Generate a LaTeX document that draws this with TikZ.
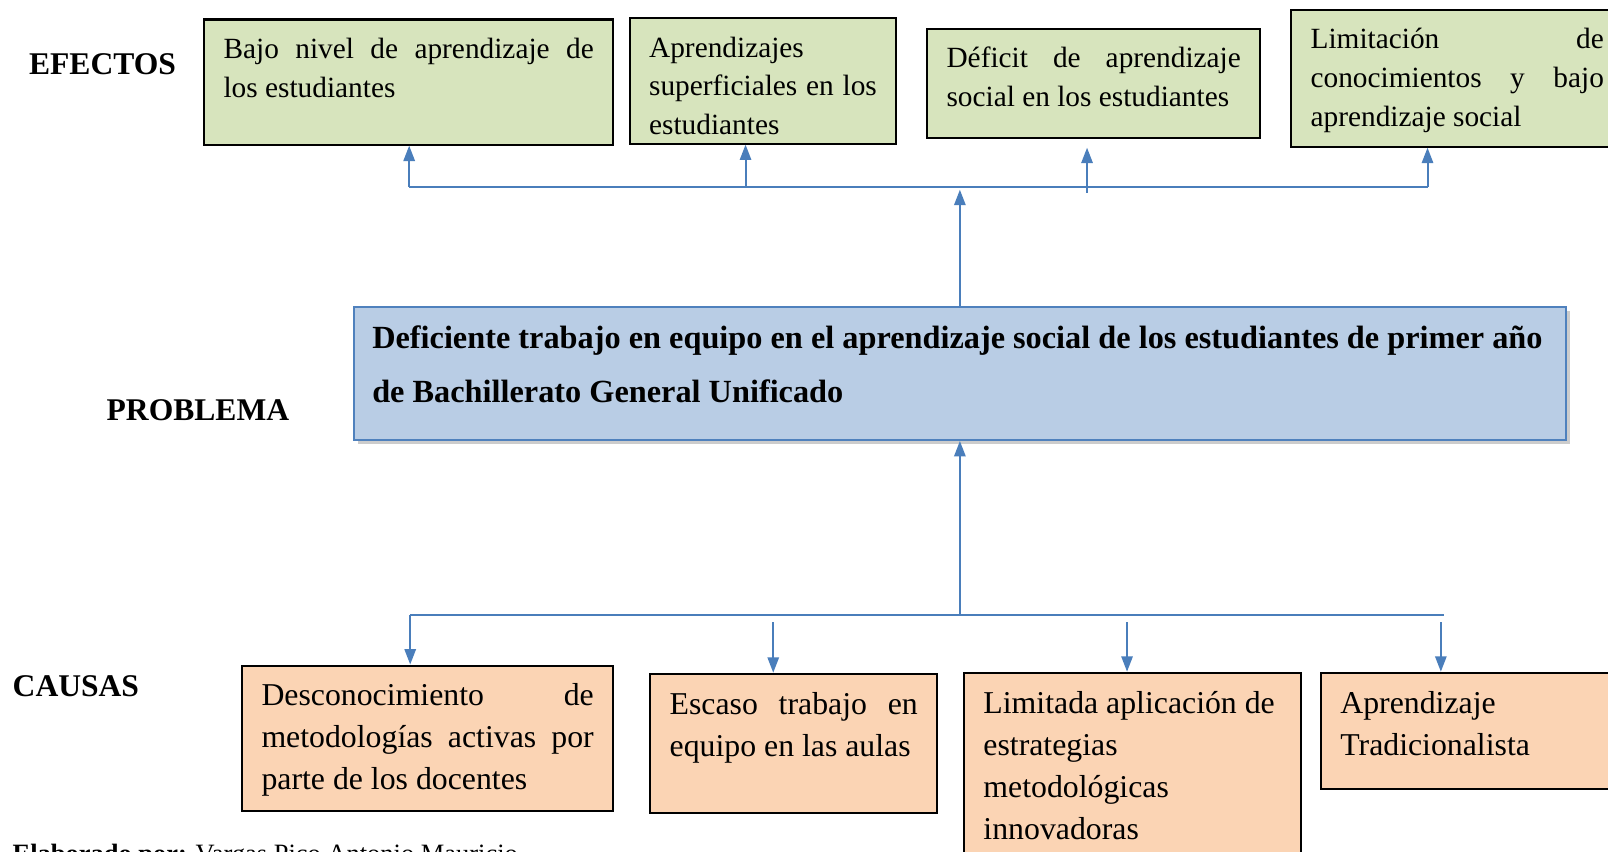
\documentclass[tikz,border=0pt]{standalone}
\usepackage{fontspec}
\setmainfont{Liberation Serif}
\usetikzlibrary{arrows.meta,shadows}
\definecolor{EGreen}{HTML}{D7E4BD}
\definecolor{COrange}{HTML}{FBD4B4}
\definecolor{PBlue}{HTML}{B9CDE5}
\definecolor{PEdge}{HTML}{4F81BD}
\definecolor{LBlue}{HTML}{4A7EBB}
% top-aligned text block: width, height, text
\newcommand{\cell}[3]{\parbox[t][#2][t]{#1}{\tolerance=10000\hyphenpenalty=10000\rule{0pt}{.72em}#3}}

\begin{document}
\begin{tikzpicture}[x=0.5pt,y=0.5pt,
  every node/.style={inner sep=0pt},
  tag/.style={font=\fontsize{15.4}{18}\selectfont\bfseries},
  efecto/.style={draw=black,line width=1pt,fill=EGreen,anchor=north west,
    inner xsep=9.5pt,inner ysep=8.5pt,font=\fontsize{14.3}{19}\selectfont},
  causa/.style={draw=black,line width=1pt,fill=COrange,anchor=north west,
    inner xsep=9.5pt,inner ysep=8.5pt,font=\fontsize{15.5}{20.5}\selectfont},
  prob/.style={draw=PEdge,line width=1pt,fill=PBlue,anchor=north west,
    inner xsep=9pt,inner ysep=9pt,font=\fontsize{15.75}{26.5}\selectfont\bfseries,
    drop shadow={shadow xshift=2pt,shadow yshift=-2pt,fill=black!40,opacity=.5}},
  bus/.style={draw=LBlue,line width=1pt},
  a/.style={bus,-{Triangle[length=7.5pt,width=5.5pt]}}
]
  \useasboundingbox (0,0) rectangle (1568,-830);

  \node[tag] (efectos) at (100,-63) {EFECTOS};
  \node[tag] (problema) at (193,-400) {PROBLEMA};
  \node[tag] (causas) at (74,-669) {CAUSAS};

  % efectos
  \node[efecto] (e1) at (198,-18) {\cell{180.5pt}{44pt}{Bajo nivel de aprendizaje de\linebreak los estudiantes}};
  \node[efecto] (e2) at (613,-17) {\cell{111pt}{44pt}{Aprendizajes\\superficiales en los\linebreak estudiantes}};
  \node[efecto] (e3) at (903,-27) {\cell{143.5pt}{36.5pt}{Déficit de aprendizaje\linebreak social en los estudiantes}};
  \node[efecto] (e4) at (1258,-9) {\cell{143pt}{49.5pt}{Limitación de\linebreak conocimientos y bajo\linebreak aprendizaje social}};

  % problema
  \node[prob] (prob) at (344,-298) {\cell{573pt}{47pt}{Deficiente trabajo en equipo en el aprendizaje social de los estudiantes de primer año\\de Bachillerato General Unificado}};

  % causas
  \node[causa] (c1) at (235,-648) {\cell{162pt}{54pt}{Desconocimiento de\linebreak metodologías activas por\linebreak parte de los docentes}};
  \node[causa] (c2) at (633,-656) {\cell{121pt}{51pt}{Escaso trabajo en\linebreak equipo en las aulas}};
  \node[causa] (c3) at (939,-655) {\cell{145.5pt}{80pt}{Limitada aplicación de\\estrategias\\metodológicas\\innovadoras}};
  \node[causa] (c4) at (1287,-655) {\cell{138pt}{39.5pt}{Aprendizaje\\Tradicionalista}};

  \node[anchor=base west,font=\fontsize{12.9}{15}\selectfont] (firma) at (12,-841)
    {\textbf{Elaborado por:} Vargas Pico Antonio Mauricio};

  % conectores hacia efectos
  \coordinate (bl) at (399,-182);
  \coordinate (br) at (1392,-182);
  \coordinate (b2) at (727,-182);
  \coordinate (b3) at (1060,-188);
  \draw[bus] (bl) -- (br);
  \draw[a] (prob.north) -- ([yshift=-1.5pt]prob.north |- bl);
  \draw[a] (bl) -- (bl |- e1.south);
  \draw[a] (b2) -- (b2 |- e2.south);
  \draw[a] (b3) -- ([yshift=-4pt]b3 |- e3.south);
  \draw[a] (br) -- (br |- e4.south);

  % conectores desde causas
  \coordinate (cl) at (400,-600);
  \coordinate (cr) at (1408,-600);
  \coordinate (k2) at (754,-607);
  \coordinate (k3) at (1099,-607);
  \coordinate (k4) at (1405,-607);
  \draw[bus] (cl) -- (cr);
  \draw[a] (prob.south |- cl) -- (prob.south);
  \draw[a] (cl) -- (cl |- c1.north);
  \draw[a] (k2) -- (k2 |- c2.north);
  \draw[a] (k3) -- (k3 |- c3.north);
  \draw[a] (k4) -- (k4 |- c4.north);
\end{tikzpicture}
\end{document}
